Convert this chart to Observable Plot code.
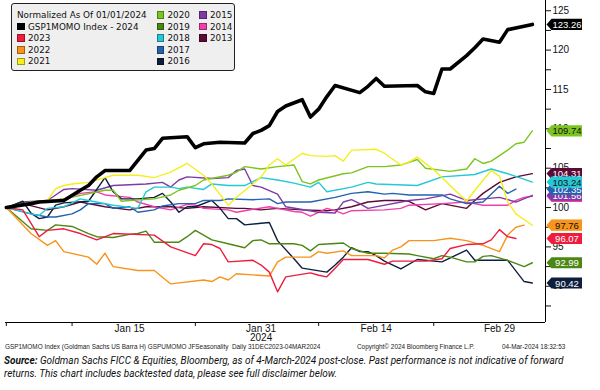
<!DOCTYPE html>
<html><head><meta charset="utf-8">
<script src="https://cdn.jsdelivr.net/npm/d3@7"></script>
<script src="https://cdn.jsdelivr.net/npm/@observablehq/plot@0.6"></script>
<style>
body{margin:0;background:#fff;}
#wrap{position:relative;width:600px;height:390px;overflow:hidden;font-family:"Liberation Sans",Arial,sans-serif;background:#fff;}
#chart svg{display:block;}
#legend{position:absolute;left:11px;top:3px;width:222px;height:66px;background:#efefef;border:1px solid #222;border-radius:3px;font-family:"DejaVu Sans",Verdana,sans-serif;font-size:8.8px;color:#111;}
.item{position:absolute;display:flex;align-items:center;white-space:nowrap;height:12px;line-height:12px;}
.sw{width:7.5px;height:7.5px;margin-right:3.5px;display:inline-block;box-sizing:border-box;border:0.5px solid rgba(0,0,0,0.35);}
.meta{position:absolute;top:343px;font-size:6.4px;color:#222;white-space:nowrap;}
#source{position:absolute;top:355px;left:4px;width:596px;font-family:Roboto,sans-serif;font-style:italic;font-size:10px;line-height:12.5px;color:#111;white-space:nowrap;}
</style></head>
<body>
<div id="wrap">
<div id="chart"></div>
<div id="legend"></div>
<div class="meta" style="left:5px">GSP1MOMO Index (Goldman Sachs US Barra H) GSPUMOMO JFSeasonality&nbsp; Daily 31DEC2023-04MAR2024</div>
<div class="meta" style="left:357px">Copyright© 2024 Bloomberg Finance L.P.</div>
<div class="meta" style="left:502px">04-Mar-2024 18:32:53</div>
<div id="source"><b>Source:</b> Goldman Sachs FICC &amp; Equities, Bloomberg, as of 4-March-2024 post-close. Past performance is not indicative of forward<br>returns. This chart includes backtested data, please see full disclaimer below.</div>
</div>
<script>
// ---------- data ----------
const years = ["2024","2023","2022","2021","2020","2019","2018","2017","2016","2015","2014","2013"];
const legendNames = ["GSP1MOMO Index - 2024","2023","2022","2021","2020","2019","2018","2017","2016","2015","2014","2013"];
const legendTitle = "Normalized As Of 01/01/2024";
const lineColors = ["#000000","#ee1d3e","#f7941d","#f5ee1c","#7cc420","#4c8714","#25c8d5","#2462ae","#0e1f3d","#7e3ba5","#f03fac","#5b0b36"];
const tagTextColors = ["#ffffff","#ffffff","#111111","#111111","#111111","#ffffff","#111111","#ffffff","#ffffff","#ffffff","#ffffff","#ffffff"];
const xTickDays = [0, 8, 23, 38, 52];
const xLabelDays = [15, 31, 45, 60];
const xLabels = ["Jan 15","Jan 31","Feb 14","Feb 29"];
const xYearLabel = "2024";
const yTicks = [87.5,90,92.5,95,97.5,100,102.5,105,107.5,110,112.5,115,117.5,120,122.5,125];

// [days since 31-Dec-2023, normalized value]
const s2024 = [[0,100],[3,100.5],[4,100.7],[7,100.9],[9,102.2],[10,102.8],[11,103.9],[12,104.7],[15,104.7],[16,106.0],[17,107.3],[18,107.5],[19,108.8],[22,109.0],[23,107.6],[24,108.1],[26,108.3],[29,108.2],[30,109.4],[31,109.8],[32,110.4],[33,112.2],[34,112.9],[36,113.7],[37,111.5],[38,112.5],[39,114.1],[40,115.5],[43,114.6],[44,115.4],[45,116.4],[46,115.4],[50,115.5],[51,114.7],[52,114.5],[53,117.6],[54,117.6],[56,119.3],[57,120.3],[58,121.4],[60,121.0],[61,122.6],[64,123.26]];
const s2023 = [[0,100],[2,99.7],[4,96.3],[5,97.1],[7,97.3],[9,96.7],[11,95.9],[13,96.7],[18,96.5],[20,95.0],[23,93.9],[24,95.4],[25,95.3],[26,94.8],[27,93.1],[30,93.3],[31,92.7],[32,91.8],[33,89.3],[34,91.2],[37,91.7],[38,91.4],[39,91.2],[40,92.3],[41,93.4],[44,93.4],[46,92.8],[47,93.2],[51,93.2],[53,93.5],[54,94.8],[56,95.3],[58,95.4],[59,95.9],[60,97.2],[61,96.3],[62,96.07]];
const s2022 = [[0,100],[3,96.7],[5,95.2],[6,95.8],[7,94.4],[10,93.7],[11,92.8],[12,94.2],[13,92.5],[16,92.0],[18,92.0],[20,90.3],[24,90.8],[25,90.6],[26,91.2],[27,90.8],[28,91.6],[32,91.3],[33,93.1],[34,93.7],[37,93.7],[38,94.4],[39,94.2],[41,94.5],[42,93.9],[45,93.9],[46,93.6],[47,94.6],[48,95.0],[49,95.8],[52,95.8],[54,96.1],[56,95.8],[58,95.2],[60,94.4],[61,96.5],[62,97.5],[63,97.76]];
const s2021 = [[0,100],[3,100.5],[5,100.9],[6,102.4],[7,102.8],[8,103.0],[10,103.2],[13,104.1],[16,104.1],[18,103.8],[20,104.5],[22,105.6],[24,104.1],[25,103.0],[27,100.3],[28,101.3],[30,103.0],[31,103.9],[32,105.4],[33,106.2],[34,105.4],[36,106.9],[37,106.6],[39,106.5],[40,106.6],[41,105.9],[42,107.3],[45,107.4],[46,106.9],[48,105.4],[49,105.8],[50,106.4],[52,104.8],[56,100.8],[57,102.2],[59,104.7],[60,104.0],[61,100.7],[62,99.2],[64,97.75]];
const s2020 = [[0,100],[3,100.7],[7,101.1],[12,102.2],[13,102.2],[14,100.8],[15,100.9],[18,101.1],[20,101.6],[21,102.2],[23,102.8],[24,103.5],[27,104.1],[28,104.5],[29,105.2],[31,104.9],[33,105.2],[35,105.4],[36,103.3],[37,103.0],[38,103.5],[41,104.3],[42,104.4],[44,105.2],[46,105.2],[48,105.4],[50,106.1],[51,105.0],[54,104.6],[56,104.9],[57,106.2],[58,105.6],[59,105.9],[61,107.3],[62,108.1],[63,108.3],[64,109.74]];
const s2019 = [[0,100],[3,97.3],[5,97.1],[6,97.8],[8,97.6],[10,96.7],[11,96.3],[13,96.2],[15,96.6],[16,96.7],[17,97.0],[18,95.6],[21,95.6],[22,96.3],[23,97.1],[25,95.9],[27,95.4],[29,94.9],[30,95.8],[31,95.9],[32,95.4],[35,95.4],[36,95.2],[37,94.5],[38,95.3],[41,95.5],[42,94.8],[44,94.2],[46,94.2],[49,94.1],[50,93.9],[52,93.5],[53,93.9],[54,93.7],[56,93.1],[57,93.1],[58,93.8],[59,93.9],[61,93.3],[63,92.5],[64,92.99]];
const s2018 = [[0,100],[3,99.2],[4,99.0],[5,99.9],[7,100.1],[9,101.1],[10,100.9],[13,100.3],[16,99.9],[17,102.0],[18,102.6],[20,102.6],[21,102.4],[22,102.6],[24,102.3],[25,103.0],[27,102.8],[29,102.8],[31,103.8],[33,103.5],[35,103.1],[37,102.6],[38,103.2],[39,102.0],[42,102.6],[44,103.2],[45,103.0],[50,102.8],[53,103.9],[57,104.2],[59,104.9],[61,104.3],[64,103.24]];
const s2017 = [[0,100],[3,99.2],[5,98.8],[6,98.8],[8,99.2],[9,99.7],[10,100.5],[12,100.5],[13,99.9],[15,100.1],[16,99.4],[18,99.7],[19,100.2],[21,100.5],[23,100.5],[24,100.9],[26,100.9],[27,101.1],[30,101.0],[32,101.1],[33,100.5],[34,100.7],[37,100.7],[40,101.3],[42,101.8],[44,102.0],[46,101.7],[47,101.8],[49,101.6],[53,101.6],[54,101.1],[56,100.5],[58,100.7],[60,102.7],[61,101.8],[62,102.35]];
const s2016 = [[0,100],[2,100.8],[3,99.3],[4,98.6],[5,98.8],[6,100.3],[7,100.6],[10,100.8],[12,103.8],[13,102.0],[14,101.1],[16,101.1],[18,101.3],[19,101.8],[20,100.7],[21,99.4],[22,100.1],[23,100.1],[25,100.9],[26,99.9],[27,98.6],[28,98.6],[29,97.8],[31,98.0],[32,98.1],[33,95.8],[35,93.5],[36,92.3],[39,91.8],[40,92.7],[41,93.7],[42,94.9],[43,94.4],[44,94.4],[45,93.9],[46,93.2],[48,92.2],[50,93.4],[53,93.1],[56,94.6],[57,93.3],[61,93.3],[63,90.6],[64,90.42]];
const s2015 = [[0,100],[2,100.7],[5,100.9],[6,101.6],[7,102.3],[8,102.4],[11,102.2],[13,102.8],[17,103.0],[19,103.2],[20,102.6],[21,103.5],[22,103.9],[25,103.7],[27,103.8],[28,104.7],[29,104.9],[30,102.8],[31,102.6],[33,101.7],[34,100.1],[38,99.4],[40,99.3],[41,100.7],[42,101.0],[43,100.5],[44,99.9],[49,100.9],[51,101.1],[54,101.7],[56,100.9],[60,101.3],[62,100.7],[64,101.56]];
const s2014 = [[0,100],[4,100.7],[7,101.1],[9,101.8],[11,102.0],[12,101.6],[15,101.3],[16,100.7],[18,100.1],[20,99.7],[22,100.4],[23,100.3],[24,99.9],[27,99.7],[28,99.4],[29,99.6],[32,100.1],[33,99.9],[35,99.5],[36,99.4],[37,98.9],[38,99.4],[39,99.9],[40,99.6],[41,99.2],[42,99.6],[46,99.7],[48,99.9],[49,100.3],[53,100.5],[56,100.7],[58,100.3],[61,100.3],[62,100.9],[63,101.3],[64,101.43]];
const s2013 = [[0,100],[2,100.5],[5,99.7],[7,100.1],[9,100.7],[12,100.1],[15,99.7],[17,100.1],[20,100.1],[22,99.9],[24,100.1],[28,99.9],[29,99.9],[31,99.7],[33,99.9],[36,99.7],[39,99.6],[40,99.7],[42,100.1],[44,100.7],[46,100.9],[48,100.9],[49,100.8],[51,99.7],[53,100.5],[56,99.9],[57,100.9],[58,101.8],[60,103.2],[62,103.9],[64,104.31]];

const seriesList = [s2024,s2023,s2022,s2021,s2020,s2019,s2018,s2017,s2016,s2015,s2014,s2013];

// ---------- build ----------
const base = Date.UTC(2023, 11, 31);
const dayToDate = d => new Date(base + d * 864e5);
const xDomain = [dayToDate(-0.1), dayToDate(65.6)];
const yDomain = [85.4, 126.3];

const rowsOf = i => seriesList[i].map(([d, v]) => ({year: years[i], date: dayToDate(d), value: v}));

const tag = {draw(ctx) {
  ctx.moveTo(1, 0); ctx.lineTo(6, -5.6); ctx.lineTo(36.5, -5.6);
  ctx.lineTo(36.5, 5.6); ctx.lineTo(6, 5.6); ctx.closePath();
}};

const marks = [];
// axes
marks.push(Plot.ruleY([yDomain[0]], {stroke: "#000", strokeWidth: 1}));
marks.push(Plot.ruleX([xDomain[1]], {stroke: "#000", strokeWidth: 1}));
marks.push(Plot.axisX({ticks: xTickDays.map(dayToDate), tickSize: 4, tickFormat: () => "", label: null}));
marks.push(Plot.text(xLabelDays, {x: d => dayToDate(d), text: (d, i) => xLabels[i], frameAnchor: "bottom", dy: 9, fontSize: 10, fill: "#111"}));
marks.push(Plot.text([xLabelDays[1]], {x: d => dayToDate(d), text: () => xYearLabel, frameAnchor: "bottom", dy: 18.5, fontSize: 10, fill: "#111"}));
marks.push(Plot.axisY({anchor: "right", ticks: yTicks, tickSize: 5, tickPadding: 2,
  tickFormat: d => (d % 5 === 0 ? String(d) : ""), label: null, fontSize: 10}));

// lines (older years first, 2024 on top)
for (let i = seriesList.length - 1; i >= 1; i--) {
  marks.push(Plot.line(rowsOf(i), {x: "date", y: "value", stroke: lineColors[i], strokeWidth: 1.4, strokeLinejoin: "round"}));
}
marks.push(Plot.line(rowsOf(0), {x: "date", y: "value", stroke: lineColors[0], strokeWidth: 3.6, strokeLinejoin: "round"}));

// end-value tags
for (let i = seriesList.length - 1; i >= 0; i--) {
  const r = rowsOf(i);
  const last = [r[r.length - 1]];
  marks.push(Plot.dot(last, {x: () => xDomain[1], y: "value", symbol: tag, r: 5, fill: lineColors[i], stroke: "none"}));
  marks.push(Plot.text(last, {x: () => xDomain[1], y: "value", text: d => d.value.toFixed(2), dx: 21.5, dy: 0.5,
    fill: tagTextColors[i], fontSize: 9.5, textAnchor: "middle"}));
}

const chart = Plot.plot({
  width: 600, height: 345,
  marginTop: 0, marginRight: 55, marginBottom: 23, marginLeft: 5,
  x: {type: "time", domain: xDomain},
  y: {domain: yDomain},
  style: {fontFamily: '"Liberation Sans", Arial, sans-serif', fontSize: "10px", background: "white", color: "#111", overflow: "visible"},
  marks
});
document.getElementById("chart").appendChild(chart);

// ---------- legend ----------
const legend = document.getElementById("legend");
const colX = [5, 144.5, 187];
const rowTop = i => 5 + i * 11.6;
function addItem(col, row, label, color) {
  const el = document.createElement("div");
  el.className = "item";
  el.style.left = colX[col] + "px";
  el.style.top = rowTop(row) + "px";
  if (color) {
    const sw = document.createElement("span");
    sw.className = "sw";
    sw.style.background = color;
    el.appendChild(sw);
  }
  el.appendChild(document.createTextNode(label));
  legend.appendChild(el);
}
addItem(0, 0, legendTitle, null);
const legendSlots = [[0,1],[0,2],[0,3],[0,4],[1,0],[1,1],[1,2],[1,3],[1,4],[2,0],[2,1],[2,2]];
legendNames.forEach((n, i) => addItem(legendSlots[i][0], legendSlots[i][1], n, lineColors[i]));
</script>
</body></html>
